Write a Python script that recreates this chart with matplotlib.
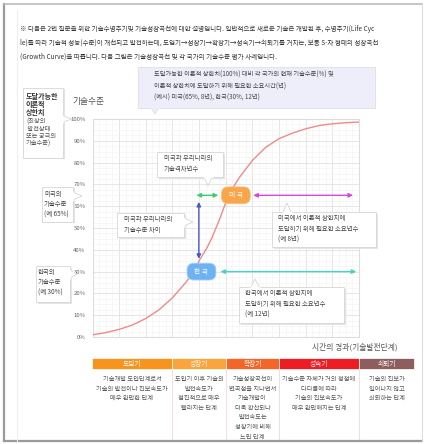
import matplotlib
matplotlib.use("Agg")
import matplotlib.pyplot as plt
from matplotlib.patches import Rectangle, Polygon
import numpy as np

plt.rcParams['font.family'] = ['Noto Sans CJK KR', 'DejaVu Sans']

# S-curve (x = share of plot width, y = tech level %)
curve_x = [0, 5, 10, 15, 20, 25, 30, 35, 38, 40, 43, 45, 48, 51, 55, 60, 65, 70, 75, 80, 85, 90, 95, 100]
curve_y = [1.0, 2.0, 3.5, 5.5, 8.5, 12.5, 18, 25, 30, 35, 41, 46, 55, 65, 73, 81, 87, 91, 93.5, 95.5, 97, 97.8, 98.3, 98.6]

yticks = [0, 10, 20, 30, 40, 50, 60, 70, 80, 90, 100]
ytick_labels = [str(v) + "%" for v in yticks]

us_level = 65
kr_level = 30
us_x = 53.8
kr_x = 40.9
gap_x = [39.0, 47.2]          # green arrow
level_x = 39.9                # blue arrow
level_y = [62.0, 35.8]
us_rest = [60.3, 97.8]        # magenta arrow
kr_rest = [48.0, 99.0]        # cyan arrow

phases = ["도입기", "성장기", "확장기", "성숙기", "쇠퇴기"]
phase_edges = [92, 172, 226, 279, 359, 414]
phase_colors = ["#f7941d", "#f9a43c", "#f4652a", "#ee1d23", "#8e5e5e"]
phase_desc = [
    ["기술개발 도입단계로서", "기술의 발전이나 진보속도가", "매우 완만한 단계"],
    ["도입기 이후 기술의", "발전속도가", "점진적으로 매우", "빨라지는 단계"],
    ["기술성장곡선이", "변곡점을 지나면서", "기술개발이", "더욱 확산되나", "발전속도는", "성장기에 비해", "느린 단계"],
    ["기술수준 자체가 거의 정점에", "다다름에 따라", "기술의 진보속도가", "매우 완만해지는 단계"],
    ["기술의 진보가", "일어나지 않고", "쇠퇴하는 단계"],
]

header_lines = [
    "※ 다음은 2번 질문을 위한 기술수명주기및 기술성장곡선에 대한 설명입니다. 일반적으로 새로운 기술은 개발된 후, 수명주기(Life Cyc",
    "le)를 따라 기술적 성능(수준)이 개선되고 발전하는데, 도입기→성장기→확장기→성숙기→쇠퇴기를 거치는, 보통 S-자 형태의 성장곡선",
    "(Growth Curve)을 따릅니다. 다음 그림은 기술성장곡선 및 각 국가의 기술수준 평가 사례입니다.",
]

W, H = 440, 444
fig = plt.figure(figsize=(4.4, 4.44), dpi=100)
fig.patch.set_facecolor("white")

# main chart
ax = fig.add_axes([92.5 / W, 1 - 337 / H, 266.5 / W, 218 / H])
ax.set_zorder(1)
ax.set_xlim(0, 100)
ax.set_ylim(0, 100)
ax.set_xticks(np.arange(0, 101, 10))
ax.set_xticks(np.arange(0, 101, 2.5), minor=True)
ax.set_yticks(yticks)
ax.set_yticks(np.arange(0, 101, 2.5), minor=True)
ax.set_yticklabels(ytick_labels, fontsize=4.3, color="#666666")
ax.set_xticklabels([])
ax.tick_params(axis="both", which="both", length=0, pad=5)
ax.grid(which="major", color="#e2e2e2", lw=0.6)
ax.grid(which="minor", color="#f1f1f1", lw=0.4)
ax.set_axisbelow(True)
for s in ax.spines.values():
    s.set_color("#dddddd")
    s.set_linewidth(0.8)

ax.plot(curve_x, curve_y, color="#f08a8a", lw=1.0, zorder=3)

def arrow(a, b, color):
    ax.annotate("", xy=b, xytext=a,
                arrowprops=dict(arrowstyle="<|-|>,head_length=0.25,head_width=0.12",
                                color=color, lw=1.0, shrinkA=0, shrinkB=0), zorder=4)

arrow((gap_x[0], us_level), (gap_x[1], us_level), "#3ccc6c")
arrow((level_x, level_y[0]), (level_x, level_y[1]), "#4a58cc")
arrow((us_rest[0], us_level), (us_rest[1], us_level), "#d64ad6")
arrow((kr_rest[0], kr_level), (kr_rest[1], kr_level), "#45d3c6")

ax.text(us_x, us_level, "  미 국  ", fontsize=4.9, color="white", ha="center", va="center", zorder=5,
        bbox=dict(boxstyle="round,pad=0.65,rounding_size=1.0", fc="#f9a64a", ec="#f3c48e", lw=0.6))
ax.text(kr_x, kr_level, "  한 국  ", fontsize=4.9, color="white", ha="center", va="center", zorder=5,
        bbox=dict(boxstyle="round,pad=0.65,rounding_size=1.0", fc="#6db3f4", ec="#a8d0f7", lw=0.6))

# overlay in pixel units for frame, callouts and phase bar
ov = fig.add_axes([0, 0, 1, 1])
ov.set_zorder(2)
ov.set_xlim(0, W)
ov.set_ylim(H, 0)
ov.axis("off")
ov.patch.set_alpha(0)

# frame
ov.plot([4, 4], [4, 441], color="#9a9a9a", lw=1.6)
ov.plot([4, 422], [4, 4], color="#bbbbbb", lw=1.2)
ov.plot([4, 422], [441, 441], color="#9a9a9a", lw=1.6)
ov.plot([422, 422], [4, 441], color="#dddddd", lw=0.8)
ov.plot([17, 17], [10, 441], color="#eeeeee", lw=0.8)

for i, line in enumerate(header_lines):
    ov.text(20, 29 + 14 * i, line, fontsize=4.7, color="#333333", va="center", ha="left")

def callout(x0, y0, x1, y1, text, tip, base, fc="white", ec="#d6d6d6", tx=None, ty=None,
            fs=4.6, ls=1.5, shadow=True):
    if shadow:
        ov.add_patch(Rectangle((x0 + 1.5, y0 + 1.5), x1 - x0, y1 - y0, fc="#e4e4e4", ec="none", zorder=1))
    ov.add_patch(Rectangle((x0, y0), x1 - x0, y1 - y0, fc=fc, ec=ec, lw=0.6, zorder=2))
    ov.add_patch(Polygon([base[0], tip, base[1]], closed=False, fc=fc, ec=ec, lw=0.6, zorder=3))
    # hide border line under notch
    ov.plot([base[0][0], base[1][0]], [base[0][1], base[1][1]], color=fc, lw=1.0, zorder=3)
    ov.text(tx if tx else x0 + 6, ty if ty else y0 + 5, text, fontsize=fs, color="#444444",
            ha="left", va="top", linespacing=ls, zorder=4)

callout(138, 67, 375, 108,
        "도달가능한 이론적 상한치(100%) 대비 각 국가의 현재 기술수준(%) 및\n"
        "이론적 상한치에 도달하기 위해 필요한 소요시간(년)\n(예시) 미국(65%, 8년), 한국(30%, 12년)",
        tip=(155, 114), base=[(151, 108), (159, 108)], fc="#eeeefb", ec="#dedef2",
        tx=154, ty=71, fs=4.5, ls=1.55, shadow=False)

callout(157, 152, 223, 177, "미국과 우리나라의\n기술격차년수",
        tip=(208, 186), base=[(204, 177), (212, 177)], tx=164, ty=154)
callout(117, 213, 184, 237, "미국과 우리나라의\n기술수준 차이",
        tip=(193, 222), base=[(184, 218), (184, 226)], tx=124, ty=215)
callout(272, 212, 376, 247, "미국에서 이론적 상한치에\n도달하기 위해 필요한 소요년수\n(예 8년)",
        tip=(287, 203), base=[(283, 212), (291, 212)], tx=278, ty=214)
callout(239, 287, 344, 323, "한국에서 이론적 상한치에\n도달하기 위해 필요한 소요년수\n(예 12년)",
        tip=(255, 279), base=[(251, 287), (259, 287)], tx=245, ty=289)

callout(42, 187, 73, 222, "미국의\n기술수준\n(예 65%)",
        tip=(82, 196), base=[(73, 192), (73, 200)], tx=44, ty=190, fs=4.6, ls=1.35)
callout(36, 266, 70, 302, "한국의\n기술수준\n(예 30%)",
        tip=(77, 274), base=[(70, 270), (70, 278)], tx=38, ty=268, fs=4.6, ls=1.35)

# left box about the upper limit
ov.add_patch(Rectangle((24.5, 89.5), 40, 70, fc="#e4e4e4", ec="none", zorder=1))
ov.add_patch(Rectangle((23, 88), 40, 70, fc="white", ec="#d6d6d6", lw=0.6, zorder=2))
ov.add_patch(Polygon([(63, 116), (72, 119), (63, 122)], closed=False, fc="white", ec="#d6d6d6", lw=0.6, zorder=3))
ov.plot([63, 63], [116, 122], color="white", lw=1.0, zorder=3)
for i, line in enumerate(["도달가능한", "이론적", "상한치"]):
    ov.text(26, 96 + 8 * i, line, fontsize=5.1, fontweight="bold", color="#333333",
            ha="left", va="center", zorder=4)
for i, line in enumerate(["(최상의", " 발전상태", "또는 궁극의", "기술수준)"]):
    ov.text(26, 122 + 7.2 * i, line, fontsize=4.5, color="#555555",
            ha="left", va="center", zorder=4)

ov.text(72, 101, "기술수준", fontsize=6.3, color="#555555", ha="left", va="center")
ov.text(398, 347, "시간의 경과(기술발전단계)", fontsize=5.6, color="#555555", ha="right", va="center")

# phase bar
for i, name in enumerate(phases):
    x0, x1 = phase_edges[i], phase_edges[i + 1]
    ov.add_patch(Rectangle((x0, 358), x1 - x0, 11, fc=phase_colors[i], ec="white", lw=0.5))
    ov.text((x0 + x1) / 2, 363.5, name, fontsize=4.8, color="white", ha="center", va="center")
    for j, line in enumerate(phase_desc[i]):
        ov.text((x0 + x1) / 2, 379 + 9.6 * j, line, fontsize=4.5, color="#555555",
                ha="center", va="center")
    if i > 0:
        ov.plot([x0, x0], [369, 440], color="#fbd6d6", lw=0.6, zorder=0)

fig.savefig("out.png", dpi=100, facecolor="white")
